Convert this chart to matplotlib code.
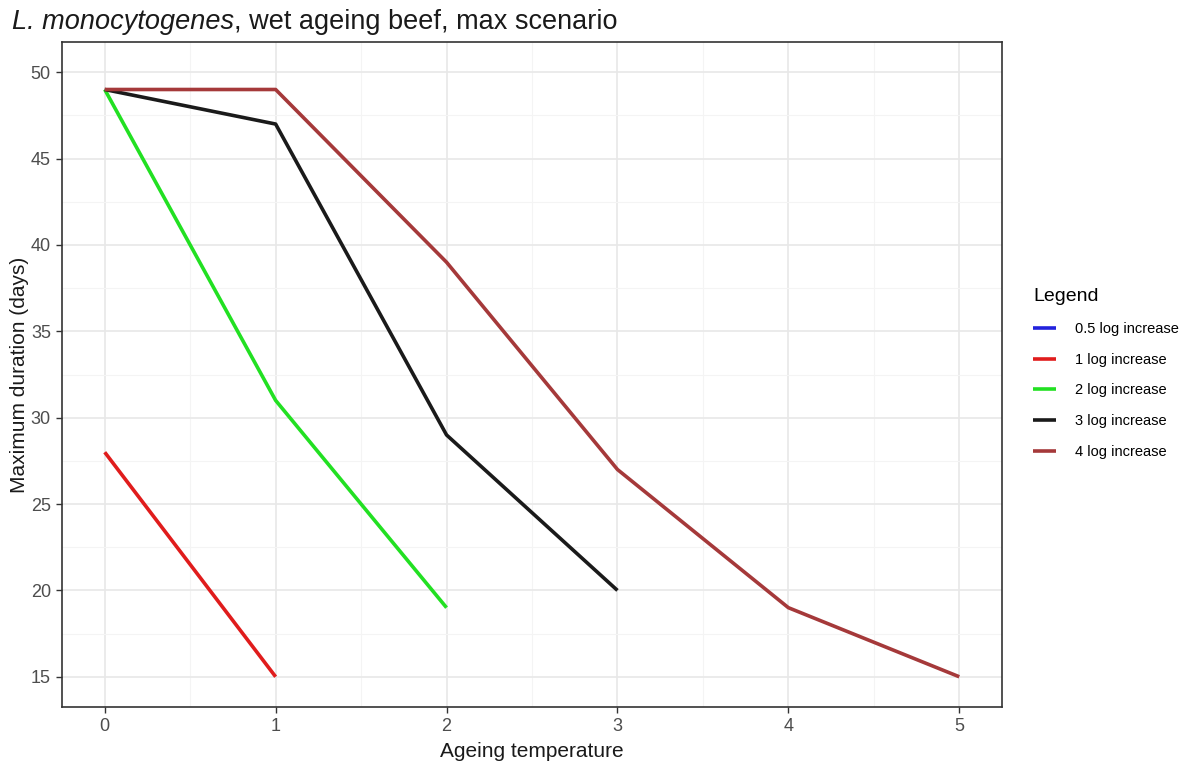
import matplotlib
matplotlib.use('Agg')
import matplotlib.pyplot as plt
from matplotlib.ticker import MultipleLocator

plt.rcParams['font.family'] = ['Liberation Sans', 'DejaVu Sans']

# data
series = ['0.5 log increase', '1 log increase', '2 log increase',
          '3 log increase', '4 log increase']
temps = {
    '0.5 log increase': [],
    '1 log increase': [0, 1],
    '2 log increase': [0, 1, 2],
    '3 log increase': [0, 1, 2, 3],
    '4 log increase': [0, 1, 2, 3, 4, 5],
}
days = {
    '0.5 log increase': [],
    '1 log increase': [28, 15],
    '2 log increase': [49, 31, 19],
    '3 log increase': [49, 47, 29, 20],
    '4 log increase': [49, 49, 39, 27, 19, 15],
}
colors = ['#2222dd', '#e01c1c', '#22e022', '#1a1a1a', '#a5393a']

fig = plt.figure(figsize=(12.01, 7.63), dpi=100)
ax = fig.add_axes([62/1201, 1 - 707/763, 940/1201, 665/763])

for name, c in zip(series, colors):
    ax.plot(temps[name], days[name], color=c, lw=2.6, label=name,
            solid_capstyle='butt')

ax.set_xlim(-0.25, 5.25)
ax.set_ylim(13.25, 51.75)
ax.xaxis.set_major_locator(MultipleLocator(1))
ax.xaxis.set_minor_locator(MultipleLocator(0.5))
ax.yaxis.set_major_locator(MultipleLocator(5))
ax.yaxis.set_minor_locator(MultipleLocator(2.5))
ax.grid(which='major', color='#e8e8e8', lw=1.2)
ax.grid(which='minor', color='#f4f4f4', lw=0.8)
ax.set_axisbelow(True)
ax.tick_params(which='major', length=4, width=1, color='#333333',
               labelsize=13, labelcolor='#4d4d4d', pad=4)
ax.tick_params(which='minor', length=0)
for s in ax.spines.values():
    s.set_color('#333333')
    s.set_linewidth(1.2)

ax.set_xlabel('Ageing temperature', fontsize=15, color='#1a1a1a', labelpad=5)
ax.set_ylabel('Maximum duration (days)', fontsize=15, color='#1a1a1a', labelpad=1)

# title with italic species name
t1 = fig.text(12/1201, 1 - 22/763, 'L. monocytogenes', fontsize=19.5,
              style='italic', va='center', color='#1a1a1a')
fig.canvas.draw()
bb = t1.get_window_extent()
fig.text(bb.x1 / fig.bbox.width, 1 - 22/763,
         ', wet ageing beef, max scenario', fontsize=19.5, va='center',
         color='#1a1a1a')

leg = ax.legend(loc='upper left', bbox_to_anchor=(1020/1201, 1 - 275/763),
                bbox_transform=fig.transFigure, frameon=False,
                title='Legend', fontsize=10.5, title_fontsize=14,
                handlelength=1.6, handletextpad=1.3, labelspacing=1.15,
                alignment='left')

fig.savefig('out.png', dpi=100)
